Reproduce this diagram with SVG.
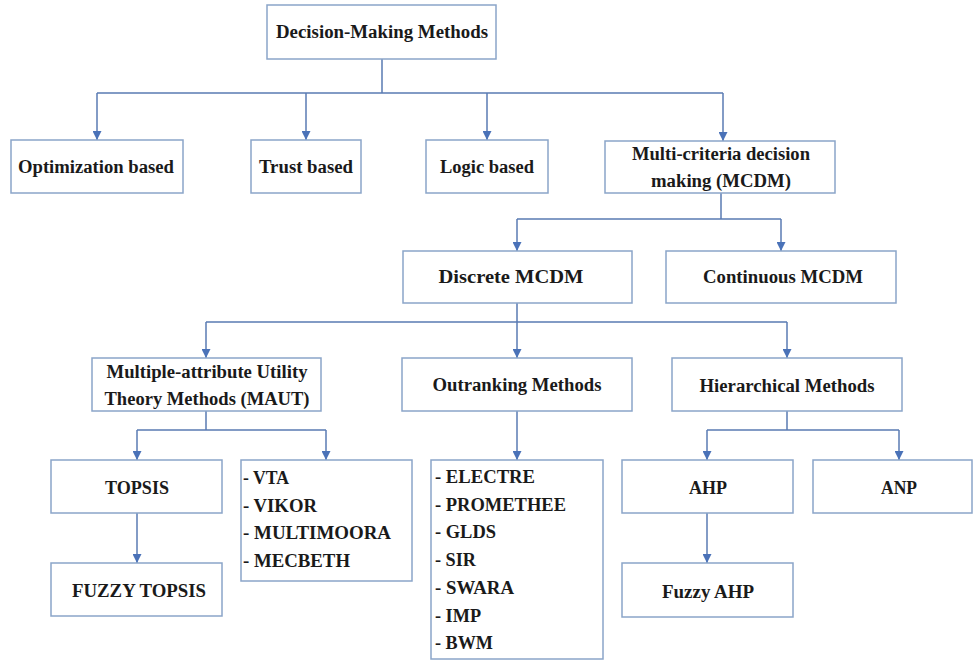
<svg xmlns="http://www.w3.org/2000/svg" width="974" height="661" viewBox="0 0 974 661">
<style>
.box{fill:#ffffff;stroke:#8ba5c9;stroke-width:1.5}
.c{fill:none;stroke:#5a7bb3;stroke-width:1.5}
.t{font-family:"Liberation Serif","Times New Roman",serif;font-weight:bold;font-size:18.5px;fill:#1a1a1a}
.m{text-anchor:middle}
</style>
<defs>
<marker id="ah" viewBox="0 0 10 10" refX="10" refY="5" markerWidth="10" markerHeight="9" markerUnits="userSpaceOnUse" orient="auto">
<path d="M0,0 L10,5 L0,10 z" fill="#4a72b8"/>
</marker>
</defs>
<rect width="974" height="661" fill="#ffffff"/>
<g id="connectors">
<path class="c" d="M382,59 V93 M97,93 H723"/>
<path class="c" d="M97,93 V140" marker-end="url(#ah)"/>
<path class="c" d="M306,93 V140" marker-end="url(#ah)"/>
<path class="c" d="M487,93 V140" marker-end="url(#ah)"/>
<path class="c" d="M723,93 V141" marker-end="url(#ah)"/>
<path class="c" d="M721,193 V219 M517,219 H781"/>
<path class="c" d="M517,219 V251" marker-end="url(#ah)"/>
<path class="c" d="M781,219 V251" marker-end="url(#ah)"/>
<path class="c" d="M517,303 V322 M206,322 H787"/>
<path class="c" d="M206,322 V358" marker-end="url(#ah)"/>
<path class="c" d="M517,322 V358" marker-end="url(#ah)"/>
<path class="c" d="M787,322 V358" marker-end="url(#ah)"/>
<path class="c" d="M206,411 V430 M137,430 H326"/>
<path class="c" d="M137,430 V460" marker-end="url(#ah)"/>
<path class="c" d="M326,430 V460" marker-end="url(#ah)"/>
<path class="c" d="M517,411 V460" marker-end="url(#ah)"/>
<path class="c" d="M137,513 V563" marker-end="url(#ah)"/>
<path class="c" d="M787,411 V430 M707,430 H899"/>
<path class="c" d="M707,430 V460" marker-end="url(#ah)"/>
<path class="c" d="M899,430 V460" marker-end="url(#ah)"/>
<path class="c" d="M707,513 V563" marker-end="url(#ah)"/>
</g>
<g class="t">
<g id="root"><rect class="box" x="267" y="5" width="229" height="54"/><text class="m" x="382" y="38" textLength="212" lengthAdjust="spacingAndGlyphs">Decision-Making Methods</text></g>
<g id="optimization"><rect class="box" x="11" y="140" width="172" height="53"/><text class="m" x="96" y="173" textLength="156" lengthAdjust="spacingAndGlyphs">Optimization based</text></g>
<g id="trust"><rect class="box" x="251" y="140" width="110" height="53"/><text class="m" x="306" y="173" textLength="94" lengthAdjust="spacingAndGlyphs">Trust based</text></g>
<g id="logic"><rect class="box" x="426" y="140" width="122" height="53"/><text class="m" x="487" y="173" textLength="94" lengthAdjust="spacingAndGlyphs">Logic based</text></g>
<g id="mcdm"><rect class="box" x="605" y="141" width="230" height="52"/><text class="m" x="721" y="160" textLength="178" lengthAdjust="spacingAndGlyphs">Multi-criteria decision</text><text class="m" x="721" y="187" textLength="140" lengthAdjust="spacingAndGlyphs">making (MCDM)</text></g>
<g id="discrete"><rect class="box" x="403" y="251" width="229" height="52"/><text class="m" x="511" y="283" textLength="145" lengthAdjust="spacingAndGlyphs">Discrete MCDM</text></g>
<g id="continuous"><rect class="box" x="666" y="251" width="230" height="52"/><text class="m" x="783" y="283" textLength="160" lengthAdjust="spacingAndGlyphs">Continuous MCDM</text></g>
<g id="maut"><rect class="box" x="92" y="358" width="229" height="53"/><text class="m" x="207" y="378" textLength="201" lengthAdjust="spacingAndGlyphs">Multiple-attribute Utility</text><text class="m" x="207" y="405" textLength="205" lengthAdjust="spacingAndGlyphs">Theory Methods (MAUT)</text></g>
<g id="outranking"><rect class="box" x="402" y="358" width="230" height="53"/><text class="m" x="517" y="391" textLength="169" lengthAdjust="spacingAndGlyphs">Outranking Methods</text></g>
<g id="hierarchical"><rect class="box" x="672" y="358" width="230" height="53"/><text class="m" x="787" y="392" textLength="175" lengthAdjust="spacingAndGlyphs">Hierarchical Methods</text></g>
<g id="topsis"><rect class="box" x="51" y="460" width="171" height="53"/><text class="m" x="137" y="494" textLength="64" lengthAdjust="spacingAndGlyphs">TOPSIS</text></g>
<g id="fuzzytopsis"><rect class="box" x="51" y="563" width="171" height="53"/><text class="m" x="139" y="597" textLength="134" lengthAdjust="spacingAndGlyphs">FUZZY TOPSIS</text></g>
<g id="mautlist"><rect class="box" x="241" y="460" width="171" height="121"/>
<text x="243" y="484" textLength="46" lengthAdjust="spacingAndGlyphs">- VTA</text>
<text x="243" y="512" textLength="74" lengthAdjust="spacingAndGlyphs">- VIKOR</text>
<text x="243" y="539" textLength="148" lengthAdjust="spacingAndGlyphs">- MULTIMOORA</text>
<text x="243" y="567" textLength="107" lengthAdjust="spacingAndGlyphs">- MECBETH</text></g>
<g id="outlist"><rect class="box" x="431" y="460" width="172" height="199"/>
<text x="435" y="483" textLength="100" lengthAdjust="spacingAndGlyphs">- ELECTRE</text>
<text x="435" y="511" textLength="131" lengthAdjust="spacingAndGlyphs">- PROMETHEE</text>
<text x="435" y="538" textLength="61" lengthAdjust="spacingAndGlyphs">- GLDS</text>
<text x="435" y="566" textLength="41" lengthAdjust="spacingAndGlyphs">- SIR</text>
<text x="435" y="594" textLength="79" lengthAdjust="spacingAndGlyphs">- SWARA</text>
<text x="435" y="622" textLength="46" lengthAdjust="spacingAndGlyphs">- IMP</text>
<text x="435" y="649" textLength="58" lengthAdjust="spacingAndGlyphs">- BWM</text></g>
<g id="ahp"><rect class="box" x="622" y="460" width="171" height="53"/><text class="m" x="708" y="494" textLength="38" lengthAdjust="spacingAndGlyphs">AHP</text></g>
<g id="anp"><rect class="box" x="813" y="460" width="159" height="53"/><text class="m" x="899" y="494" textLength="36" lengthAdjust="spacingAndGlyphs">ANP</text></g>
<g id="fuzzyahp"><rect class="box" x="622" y="563" width="171" height="54"/><text class="m" x="708" y="598" textLength="92" lengthAdjust="spacingAndGlyphs">Fuzzy AHP</text></g>
</g>
</svg>
